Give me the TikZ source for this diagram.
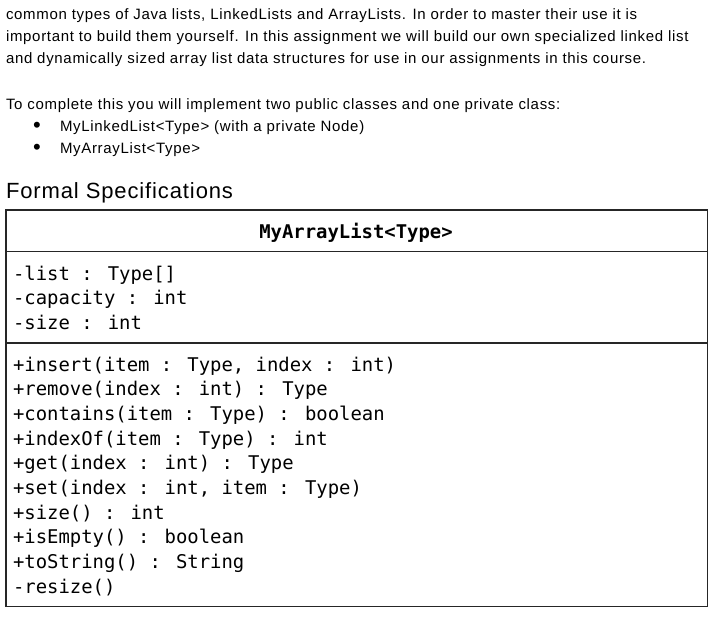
\documentclass[tikz,border=0pt]{standalone}
\usepackage{fontspec}
\setmainfont{Liberation Sans}
\newfontfamily\bodyfont[LetterSpace=4.6]{Liberation Sans}
\newfontfamily\headfont[LetterSpace=4.0]{Liberation Sans}
\newfontfamily\codefont{DejaVu Sans Mono}
\begin{document}
\begin{tikzpicture}[x=1pt,y=-1pt,
  every node/.style={inner sep=0pt,outer sep=0pt,anchor=base west},
  body/.style={font=\bodyfont\fontsize{15}{17}\selectfont},
  heading/.style={font=\headfont\fontsize{22}{25}\selectfont},
  code/.style={font=\codefont\fontsize{18.9}{22}\selectfont},
  codebold/.style={font=\codefont\bfseries\fontsize{18.9}{22}\selectfont},
  frame/.style={draw=black!85,line width=1.4pt}]
\useasboundingbox (0,0) rectangle (727,628);
\fill[white] (0,0) rectangle (727,628);
% paragraph text
\node[body] (p1) at (6,20) {common types of Java lists, LinkedLists and ArrayLists. In order to master their use it is};
\node[body] (p2) at (6,41.7) {important to build them yourself. In this assignment we will build our own specialized linked list};
\node[body] (p3) at (6,63.4) {and dynamically sized array list data structures for use in our assignments in this course.};
\node[body] (p4) at (6,110) {To complete this you will implement two public classes and one private class:};
\node[anchor=center,font=\fontsize{22}{22}\selectfont] (b1) at (37,127) {•};
\node[body] (l1) at (60,132) {MyLinkedList<Type> (with a private Node)};
\node[anchor=center,font=\fontsize{22}{22}\selectfont] (b2) at (37,149) {•};
\node[body] (l2) at (60,154) {MyArrayList<Type>};
\node[heading] (h) at (6,198.3) {Formal Specifications};
% class box
\draw[frame] (6,210) rectangle (707.5,606.7);
\draw[frame] (6,251.3) -- (707.5,251.3);
\draw[frame] (6,343) -- (707.5,343);
\node[codebold,anchor=base] (title) at (356,238.3) {MyArrayList<Type>};
% attributes
\node[code] (a1) at (13,280) {-list : Type[]};
\node[code] (a2) at (13,304.5) {-capacity : int};
\node[code] (a3) at (13,329) {-size : int};
% methods
\node[code] (m1) at (13,371) {+insert(item : Type, index : int)};
\node[code] (m2) at (13,395.7) {+remove(index : int) : Type};
\node[code] (m3) at (13,420.3) {+contains(item : Type) : boolean};
\node[code] (m4) at (13,445) {+indexOf(item : Type) : int};
\node[code] (m5) at (13,469.7) {+get(index : int) : Type};
\node[code] (m6) at (13,494.3) {+set(index : int, item : Type)};
\node[code] (m7) at (13,519) {+size() : int};
\node[code] (m8) at (13,543.7) {+isEmpty() : boolean};
\node[code] (m9) at (13,568.3) {+toString() : String};
\node[code] (m10) at (13,593) {-resize()};
\end{tikzpicture}
\end{document}
